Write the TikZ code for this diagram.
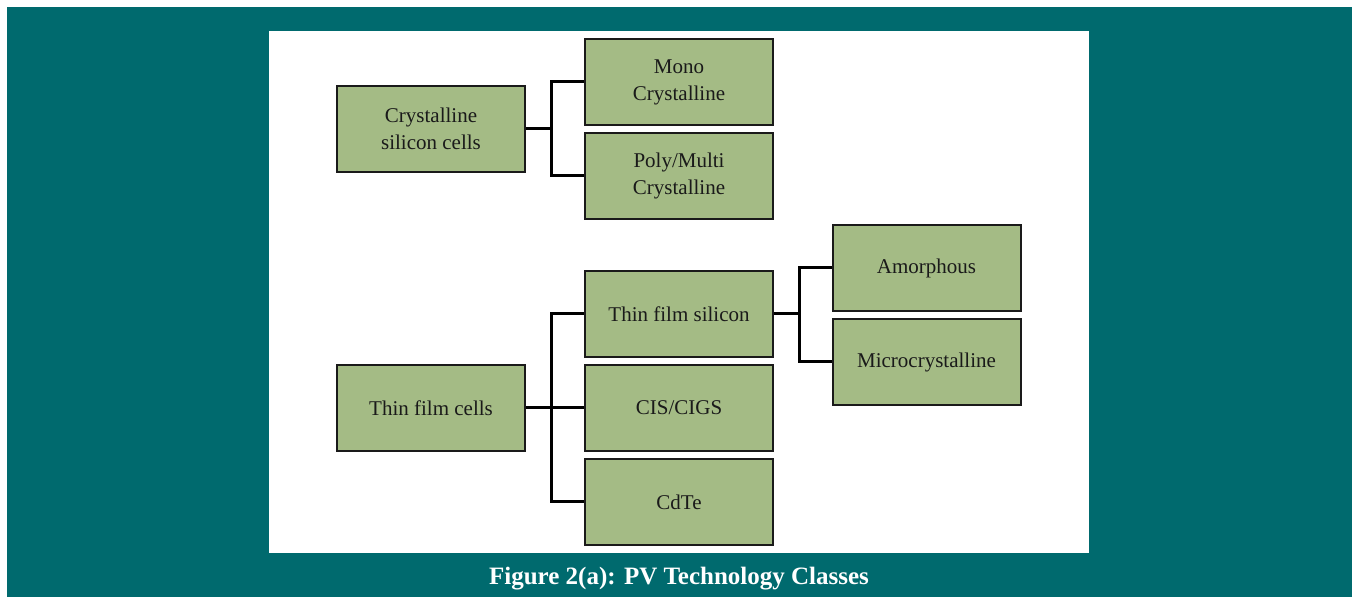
\documentclass[tikz,border=0pt]{standalone}
\usepackage{fontspec}
\setmainfont{Liberation Serif}
\usetikzlibrary{positioning, calc}
\definecolor{pvteal}{RGB}{0, 106, 110}
\definecolor{pvgreen}{RGB}{164, 187, 133}
\definecolor{pvedge}{RGB}{26, 26, 26}

\begin{document}
\begin{tikzpicture}[
  x=0.5pt, y=-0.5pt,
  classbox/.style={
    rectangle, draw=pvedge, fill=pvgreen,
    minimum width=94pt, minimum height=43pt,
    line width=1pt, align=center,
    font=\fontsize{10.5}{13.5}\selectfont, text=pvedge
  },
  linkedge/.style={draw=black, line width=1.5pt, line join=miter},
]

%% ================================================================
%% BACKGROUND PANELS
%% ================================================================
\useasboundingbox (0,0) rectangle (1352,597);
\fill[white]  (0,0) rectangle (1352,597);
\fill[pvteal] (7,7) rectangle (1352,597);
\fill[white]  (269,31) rectangle (1089,553);

%% ================================================================
%% CRYSTALLINE BRANCH
%% ================================================================
\node[classbox] (cryst) at (431,129) {Crystalline\\silicon cells};
\node[classbox] (mono)  at (679,82)  {Mono\\Crystalline};
\node[classbox] (poly)  at (679,176) {Poly/Multi\\Crystalline};

% bracket: cryst -> mono / poly
\coordinate (cj) at (551,129);
\draw[linkedge] (cryst.east) -- (cj);
\draw[linkedge] (cj) |- (mono.west);
\draw[linkedge] (cj) |- (poly.west);

%% ================================================================
%% THIN FILM BRANCH
%% ================================================================
\node[classbox] (tfc)   at (431,408) {Thin film cells};
\node[classbox] (tfsi)  at (679,314) {Thin film silicon};
\node[classbox] (cis)   at (679,408) {CIS/CIGS};
\node[classbox] (cdte)  at (679,502) {CdTe};

\node[classbox] (amor)  at (926.5,268) {Amorphous};
\node[classbox] (micro) at (926.5,362) {Microcrystalline};

% bracket: tfc -> tfsi / cis / cdte
\coordinate (tj) at (551,408);
\draw[linkedge] (tfc.east) -- (cis.west);
\draw[linkedge] (tj) |- (tfsi.west);
\draw[linkedge] (tj) |- (cdte.west);

% bracket: tfsi -> amor / micro
\coordinate (sj) at (799,314);
\draw[linkedge] (tfsi.east) -- (sj);
\draw[linkedge] (sj) |- (amor.west);
\draw[linkedge] (sj) |- (micro.west);

%% ================================================================
%% CAPTION
%% ================================================================
\node[font=\fontsize{12.5}{15}\selectfont\bfseries, text=white] (cap) at (679,579)
  {Figure 2(a): PV Technology Classes};

\end{tikzpicture}
\end{document}
